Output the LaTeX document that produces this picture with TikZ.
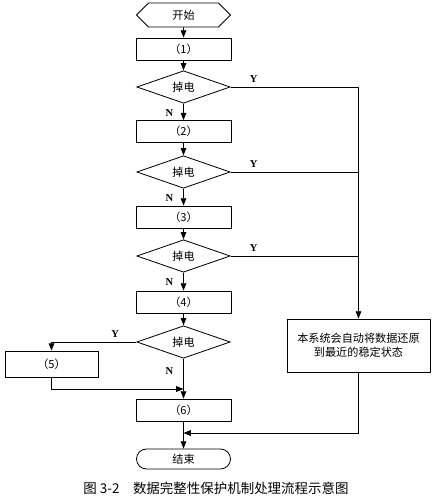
\documentclass[tikz,border=0pt]{standalone}
\usepackage{fontspec}
\setmainfont{Liberation Serif}
\newfontfamily\cjk{Noto Sans CJK SC}
\usetikzlibrary{arrows.meta,shapes.geometric,shapes.misc,shapes.symbols}

\begin{document}
\begin{tikzpicture}[x=0.03cm,y=-0.03cm,line width=0.7pt,
  every node/.style={font=\cjk\fontsize{9.5}{12}\selectfont},
  proc/.style={draw,rectangle,minimum width=2.85cm,minimum height=0.66cm,inner sep=0pt},
  test/.style={draw,diamond,minimum width=2.8cm,minimum height=0.93cm,inner sep=0pt},
  term/.style={draw,signal,signal to=east and west,signal pointer angle=90,minimum width=2.82cm,minimum height=0.72cm,inner sep=0pt},
  stop/.style={draw,rounded rectangle,minimum width=2.82cm,minimum height=0.6cm,inner sep=0pt},
  yn/.style={font=\bfseries\fontsize{9}{10}\selectfont},
  flow/.style={-{Triangle[length=2.2mm,width=1.7mm]}}]
  \useasboundingbox (0,0) rectangle (435,503);

  \draw (183.5,15) node[term] (start) {开始};
  \draw (183.5,49) node[proc] (p1) {（1）};
  \draw (183.5,87) node[test] (t1) {掉电};
  \draw (183.5,131.5) node[proc] (p2) {（2）};
  \draw (183.5,172) node[test] (t2) {掉电};
  \draw (183.5,217) node[proc] (p3) {（3）};
  \draw (183.5,256) node[test] (t3) {掉电};
  \draw (183.5,302) node[proc] (p4) {（4）};
  \draw (183.5,342) node[test] (t4) {掉电};
  \draw (51.5,364) node[proc,minimum width=2.79cm,minimum height=0.78cm] (p5) {（5）};
  \draw (183.5,410) node[proc] (p6) {（6）};
  \draw (183.5,459) node[stop] (end) {结束};
  \draw (358.5,345.5) node[proc,minimum width=4.29cm,minimum height=1.59cm,align=center] (restore) {本系统会自动将数据还原\\到最近的稳定状态};
  \draw (216,488) node[font=\cjk\fontsize{11.5}{13}\selectfont] (caption) {图 3-2\quad 数据完整性保护机制处理流程示意图};

  \coordinate (j5) at (183.5,389);
  \coordinate (j6) at (183.5,433);

  \path[flow] (start) edge (p1);
  \path[flow] (p1) edge (t1);
  \path[flow] (t1) edge node[yn,left=5pt,pos=0.6] (n1) {N} (p2);
  \path[flow] (p2) edge (t2);
  \path[flow] (t2) edge node[yn,left=5pt,pos=0.55] (n2) {N} (p3);
  \path[flow] (p3) edge (t3);
  \path[flow] (t3) edge node[yn,left=5pt,pos=0.55] (n3) {N} (p4);
  \path[flow] (p4) edge (t4);
  \path[flow] (t4) edge node[yn,left=5pt,pos=0.3] (n4) {N} (p6);

  \draw[flow] (t1.east) -- node[yn,above,pos=0.18] (y1) {Y} (t1.east -| restore.north) -- (restore.north);
  \draw (t2.east) -- node[yn,above,pos=0.18] (y2) {Y} (t2.east -| restore.north);
  \draw (t3.east) -- node[yn,above,pos=0.18] (y3) {Y} (t3.east -| restore.north);
  \draw[flow] (t4.west) -- node[yn,above,pos=0.25] (y4) {Y} (t4.west -| p5.north) -- (p5.north);

  \draw[flow] (p5.south) |- (j5);
  \draw[flow] (p6) -- (end);
  \draw[flow] (restore.south) |- (j6);

\end{tikzpicture}
\end{document}
